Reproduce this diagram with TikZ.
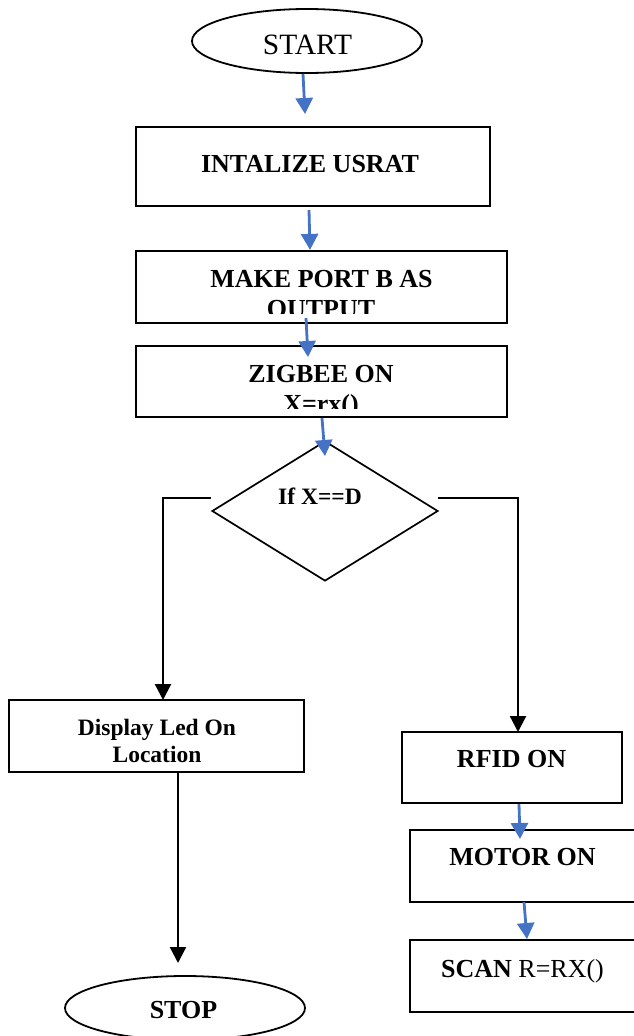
\documentclass[tikz,border=0pt]{standalone}
\usepackage{fontspec}
\setmainfont{Liberation Serif}
\usetikzlibrary{shapes.geometric,arrows.meta,calc}

\definecolor{flowblue}{HTML}{4472C4}

\tikzset{
  box/.style={draw, line width=2.2pt, inner sep=0pt, rectangle},
  term/.style={draw, line width=1.8pt, ellipse, inner sep=0pt},
  decision/.style={draw, line width=1.7pt, diamond, inner sep=0pt},
  lbl/.style={anchor=base, inner sep=0pt, font=\fontsize{26}{30}\selectfont\bfseries},
  small/.style={anchor=base, inner sep=0pt, font=\fontsize{23.5}{27}\selectfont\bfseries},
  blueflow/.style={draw=flowblue, line width=2.8pt, -{Triangle[width=17pt,length=16pt]}, fill=flowblue},
  blackflow/.style={draw=black, line width=2.3pt, -{Triangle[width=16pt,length=16pt]}}
}

\begin{document}
\begin{tikzpicture}[x=1pt, y=-1pt]
  \useasboundingbox (0,0) rectangle (634,1036);
  \clip (0,0) rectangle (634,1036);

  % terminals
  \node[term, minimum width=230pt, minimum height=64pt] (start) at (307,41) {};
  \node[anchor=base, inner sep=0pt, font=\fontsize{29.5}{33}\selectfont] (startT) at (307.5,54) {START};

  \node[term, minimum width=240pt, minimum height=64pt] (stop) at (185,1008) {};
  \node[lbl] (stopT) at (183.5,1018) {STOP};

  % process boxes
  \node[box, minimum width=354pt, minimum height=79pt] (init) at (313,166.5) {};
  \node[lbl] (initT) at (310,172) {INTALIZE USRAT};

  \node[box, minimum width=371pt, minimum height=72pt] (port) at (321.5,287) {};
  \node[box, minimum width=371pt, minimum height=71pt] (zig) at (321.5,381.5) {};

  % text of the two boxes whose second line runs past the inner margin
  \begin{scope}
    \clip (port.north west) rectangle ($(port.south east)+(0,-11)$);
    \node[lbl] (portA) at (321.5,287) {MAKE PORT B AS};
    \node[lbl] (portB) at (321,317) {OUTPUT};
  \end{scope}
  \begin{scope}
    \clip (zig.north west) rectangle ($(zig.south east)+(0,-10)$);
    \node[lbl] (zigA) at (321,382) {ZIGBEE ON};
    \node[lbl] (zigB) at (321,412) {X=rx()};
  \end{scope}

  % decision
  \node[decision, minimum width=226pt, minimum height=140pt] (dec) at (325,511) {};
  \node[small] (decT) at (320,504) {If X==D};

  % left branch
  \node[box, minimum width=295pt, minimum height=72pt] (disp) at (156.5,736) {};
  \node[small] (dispA) at (157,735) {Display Led On};
  \node[small] (dispB) at (157,762) {Location};

  % right branch
  \node[box, minimum width=220pt, minimum height=71pt] (rfid) at (512,767.5) {};
  \node[lbl] (rfidT) at (511.5,767) {RFID ON};

  \node[box, minimum width=235pt, minimum height=72pt] (motor) at (527.5,866) {};
  \node[lbl] (motorT) at (522.5,865) {MOTOR ON};

  \node[box, minimum width=235pt, minimum height=72pt] (scan) at (527.5,976) {};
  \node[anchor=base, inner sep=0pt, font=\fontsize{26}{30}\selectfont] (scanT) at (522.5,977) {\textbf{SCAN} R=RX()};

  % free ends of the connectors
  \coordinate (a1) at ($(start.south)+(-4,0)$);
  \coordinate (a1e) at (305,114);
  \coordinate (a2) at (309,210);
  \coordinate (a2e) at ($(port.north)+(-11.5,0)$);
  \coordinate (a3) at (306,318);
  \coordinate (a3e) at (308,357);
  \coordinate (a4) at ($(zig.south)+(0.5,0)$);
  \coordinate (a4e) at (325,456);
  \coordinate (a5) at ($(rfid.south)+(7,0)$);
  \coordinate (a5e) at (520,839);
  \coordinate (a6) at (524,902);
  \coordinate (a6e) at (527,939);

  \coordinate (lb) at ($(dec.west)+(0,-13)$);
  \coordinate (rb) at ($(dec.east)+(-1,-13)$);
  \coordinate (dispIn) at (163,700);
  \coordinate (rfidIn) at (518,732);
  \coordinate (dispOut) at (178,772);
  \coordinate (stopIn) at (178,963);

  % blue connectors
  \draw[blueflow] (a1) -- (a1e);
  \draw[blueflow] (a2) -- (a2e);
  \draw[blueflow] (a3) -- (a3e);
  \draw[blueflow] (a4) -- (a4e);
  \draw[blueflow] (a5) -- (a5e);
  \draw[blueflow] (a6) -- (a6e);

  % black connectors
  \draw[blackflow] (lb) -| (dispIn);
  \draw[blackflow] (rb) -| (rfidIn);
  \draw[blackflow] (dispOut) -- (stopIn);
\end{tikzpicture}
\end{document}
